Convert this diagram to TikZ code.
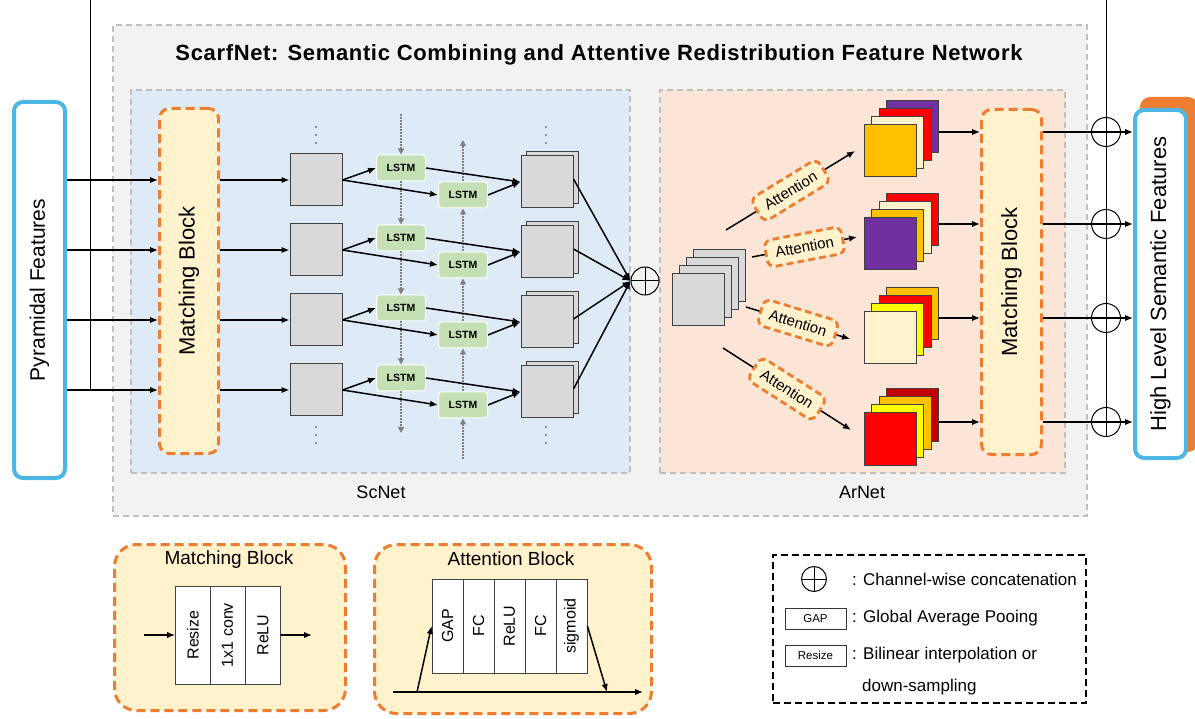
\documentclass[tikz,border=0pt]{standalone}
\usepackage{fontspec}
\setmainfont{Liberation Sans}
\usetikzlibrary{arrows.meta, positioning, calc}

\definecolor{bggray}{HTML}{F2F2F2}
\definecolor{boxgray}{HTML}{BFBFBF}
\definecolor{scblue}{HTML}{DEEBF7}
\definecolor{arpeach}{HTML}{FBE5D6}
\definecolor{mbyellow}{HTML}{FFF2CC}
\definecolor{morange}{HTML}{ED7D31}
\definecolor{fblue}{HTML}{4EB6E6}
\definecolor{fmapgray}{HTML}{D9D9D9}
\definecolor{lstmgreen}{HTML}{C5E0B4}
\definecolor{mpurple}{HTML}{7030A0}
\definecolor{mred}{HTML}{FF0000}
\definecolor{mgold}{HTML}{FFC000}
\definecolor{mcream}{HTML}{FFF2CC}
\definecolor{myellow}{HTML}{FFFF00}
\definecolor{mdarkred}{HTML}{C00000}
\definecolor{seqgray}{HTML}{808080}

\tikzset{
  region/.style={draw=boxgray, line width=1.8pt, dash pattern=on 6pt off 4pt, inner sep=0pt},
  featbox/.style={draw=fblue, line width=4pt, fill=white, rounded corners=9pt, inner sep=0pt,
    font=\fontsize{21}{21}\selectfont},
  mblock/.style={draw=morange, line width=3pt, dash pattern=on 9pt off 5pt, fill=mbyellow,
    rounded corners=10pt, inner sep=0pt},
  fmap/.style={draw=black!75, line width=1pt, fill=fmapgray, minimum size=52pt, inner sep=0pt},
  lstm/.style={draw=white, line width=1pt, fill=lstmgreen, rounded corners=3pt,
    minimum width=49pt, minimum height=26pt, inner sep=0pt, font=\bfseries\fontsize{10.5}{10.5}\selectfont},
  attn/.style={draw=morange, line width=2.8pt, dash pattern=on 7pt off 4pt, fill=mbyellow,
    rounded corners=7pt, minimum width=78pt, minimum height=27pt, inner sep=2pt,
    font=\fontsize{15}{15}\selectfont},
  arr/.style={-{Latex[length=8pt,width=6.5pt]}, line width=1.5pt},
  seq/.style={-{Triangle[length=6pt,width=6pt]}, draw=seqgray, line width=1.6pt, dash pattern=on 2pt off 1pt},
  oplus/.style={circle, draw, line width=1pt, minimum size=29pt, inner sep=0pt,
    path picture={\draw[line width=1pt] (path picture bounding box.north) -- (path picture bounding box.south)
      (path picture bounding box.west) -- (path picture bounding box.east);}},
  cell/.style={draw=black!75, line width=0.8pt, fill=white, inner sep=0pt, font=\fontsize{16}{16}\selectfont},
  smallbox/.style={draw=black!80, line width=0.8pt, fill=white, minimum width=61pt, minimum height=21pt,
    inner sep=0pt, font=\fontsize{11.5}{11.5}\selectfont},
  legtext/.style={anchor=west, inner sep=0pt, font=\fontsize{17}{17}\selectfont}
}

\begin{document}
\begin{tikzpicture}[x=1pt,y=-1pt]
\useasboundingbox (0,0) rectangle (1195,719);

% network regions
\node[region, fill=bggray, minimum width=974, minimum height=491] (Scarf) at (600,270.5) {};
\node[font=\bfseries\fontsize{22}{22}\selectfont\addfontfeatures{LetterSpace=3}] (Title) at (599,55)
  {ScarfNet: Semantic Combining and Attentive Redistribution Feature Network};
\node[region, fill=scblue, minimum width=499, minimum height=383] (ScNet) at (380.5,281.5) {};
\node[region, fill=arpeach, minimum width=405, minimum height=383] (ArNet) at (862.5,281.5) {};
\node[font=\fontsize{18}{18}\selectfont] (ScLab) at (381,492) {ScNet};
\node[font=\fontsize{18}{18}\selectfont] (ArLab) at (862,492) {ArNet};

% input and output features
\node[featbox, minimum width=51, minimum height=376] (Pyr) at (39.5,290) {\rotatebox{90}{Pyramidal Features}};
\node[fill=morange, rounded corners=10pt, minimum width=58, minimum height=355] (HLb) at (1169,274.5) {};
\node[featbox, minimum width=51, minimum height=348, font=\fontsize{22}{22}\selectfont] (HL) at (1160.5,284)
  {\rotatebox{90}{High Level Semantic Features}};

% matching blocks
\node[mblock, minimum width=59, minimum height=345, font=\fontsize{22}{22}\selectfont] (MB1) at (189,281)
  {\rotatebox{90}{Matching Block}};
\node[mblock, minimum width=60, minimum height=345, font=\fontsize{22}{22}\selectfont] (MB2) at (1011.5,282)
  {\rotatebox{90}{Matching Block}};

% ScNet
\foreach \r/\y in {1/180,2/250,3/320,4/390}{
  \coordinate (r\r) at (0,\y);
  \node[fmap] (F\r) at (316,\y) {};
  \node[lstm] (LA\r) at (401,\y-12) {LSTM};
  \node[lstm] (LB\r) at (463,\y+15) {LSTM};
  \node[fmap] (SB\r) at (552,\y-2) {};
  \node[fmap] (S\r) at (547,\y+2) {};
}
% dots for the further levels
\foreach \x in {316,546}
  \foreach \y in {127,135,143,427,435,443}
    \fill[black!55] (\x,\y) circle (1.1pt);

\coordinate (topA) at (401,114);
\coordinate (botA) at (401,433);
\coordinate (topB) at (463,140);
\coordinate (botB) at (463,459);
\draw[seq] (topA) -- (LA1.north);
\foreach \a/\b in {1/2,2/3,3/4} \draw[seq] (LA\a.south) -- (LA\b.north);
\draw[seq] (LA4.south) -- (botA);
\draw[seq] (botB) -- (LB4.south);
\foreach \a/\b in {4/3,3/2,2/1} \draw[seq] (LB\a.north) -- (LB\b.south);
\draw[seq] (LB1.north) -- (topB);

\node[oplus, minimum size=28pt] (Cat) at (645,281) {};

\coordinate (skipL) at (90,0);
\draw[line width=1pt] (skipL) -- (skipL |- r4);

\foreach \r in {1,2,3,4}{
  \draw[arr] (Pyr.east |- r\r) -- (MB1.west |- r\r);
  \draw[arr] (MB1.east |- r\r) -- (F\r.west);
  \draw[arr] (F\r.east) -- (LA\r.west);
  \draw[arr] (F\r.east) -- (LB\r.west);
  \draw[arr] (LA\r.east) -- (S\r.west);
  \draw[arr] (LB\r.east) -- (S\r.west);
  \draw[arr] ($(S\r.east)+(0,-3)$) -- (Cat.west);
}

% ArNet
\foreach \k in {3,2,1,0} \node[fmap] (G\k) at ({698+7.3*\k},{299.5-8*\k}) {};

\foreach \r/\y/\ca/\cb/\cc/\cd in {1/151/mpurple/mred/mcream/mgold, 2/244/mred/mcream/mgold/mpurple,
    3/338/mgold/mred/myellow/mcream, 4/439/mdarkred/mgold/myellow/mred}{
  \node[fmap, fill=\ca] (C\r) at (912.5,\y-24) {};
  \node[fmap, fill=\cb] (Cb\r) at (905,\y-16) {};
  \node[fmap, fill=\cc] (Cc\r) at (897.5,\y-8) {};
  \node[fmap, fill=\cd] (D\r) at (890,\y) {};
}

\foreach \r/\xa/\ya/\xb/\yb in {1/726/230/855/151, 2/752/257/857/237, 3/746/307/850/339, 4/723/348/851/430}{
  \coordinate (as\r) at (\xa,\ya);
  \coordinate (ae\r) at (\xb,\yb);
  \draw[arr] (as\r) -- node[attn, sloped] (At\r) {Attention} (ae\r);
}

\coordinate (skipR) at (1106,0);
\foreach \r/\y in {1/132,2/224,3/318,4/422}{
  \coordinate (o\r) at (0,\y);
  \node[oplus] (P\r) at (1106,\y) {};
  \draw[arr] (C\r.east |- o\r) -- (MB2.west |- o\r);
  \draw[arr] (MB2.east |- o\r) -- (HL.west |- o\r);
}
\draw[line width=1pt] (skipR) -- (P4.south);

% matching block legend
\node[mblock, rounded corners=22pt, minimum width=231, minimum height=166] (MBL) at (230,627.5) {};
\node[font=\fontsize{19}{19}\selectfont] (MBLt) at (229,560) {Matching Block};
\foreach \i/\x/\t in {1/193/Resize, 2/227.5/1x1 conv, 3/263/ReLU}
  \node[cell, minimum width=35, minimum height=98] (M\i) at (\x,635) {\rotatebox{90}{\t}};
\coordinate (min) at (144,635);
\coordinate (mout) at (312,635);
\draw[arr] (min) -- (M1.west);
\draw[arr] (M3.east) -- (mout);

% attention block legend
\node[mblock, rounded corners=22pt, minimum width=277, minimum height=169] (ABL) at (513,629) {};
\node[font=\fontsize{19}{19}\selectfont] (ABLt) at (511,559) {Attention Block};
\foreach \i/\x/\t in {1/447.5/GAP, 2/478.5/FC, 3/509.5/ReLU, 4/540.5/FC, 5/571.5/sigmoid}
  \node[cell, minimum width=31, minimum height=94] (B\i) at (\x,626) {\rotatebox{90}{\t}};
\coordinate (ain) at (393,692);
\coordinate (aout) at (643,692);
\coordinate (aup) at (417,692);
\coordinate (adn) at (607,692);
\draw[arr] (ain) -- (aout);
\draw[arr] (aup) -- (B1.west);
\draw[arr] (B5.east) -- (adn);

% symbol legend
\node[draw, line width=2pt, dash pattern=on 7pt off 4pt, minimum width=313, minimum height=148] (Leg) at (929.5,629) {};
\node[oplus, minimum size=25pt] (LegP) at (814,579) {};
\node[legtext] (LegPt) at (852,579) {: Channel-wise concatenation};
\node[smallbox] (LegG) at (815.5,618.5) {GAP};
\node[legtext] (LegGt) at (852,618) {: Global Average Pooing};
\node[smallbox] (LegR) at (815.5,655.5) {Resize};
\node[legtext] (LegRt) at (852,655) {: Bilinear interpolation or};
\node[legtext] (LegRt2) at (862,687) {down-sampling};
\end{tikzpicture}
\end{document}
